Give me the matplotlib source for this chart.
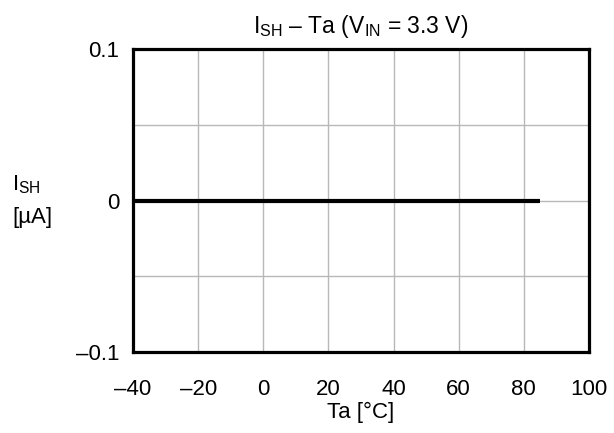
import matplotlib
matplotlib.use("Agg")
import matplotlib.pyplot as plt
from matplotlib.ticker import FixedLocator, FixedFormatter

plt.rcParams["font.family"] = ["Liberation Sans", "DejaVu Sans"]
plt.rcParams["mathtext.fontset"] = "custom"
plt.rcParams["mathtext.rm"] = "Liberation Sans"
plt.rcParams["mathtext.it"] = "Liberation Sans:italic"

# data
ta = [-40, 85]
i_sh = [0.0, 0.0]

x_ticks = [-40, -20, 0, 20, 40, 60, 80, 100]
x_labels = ["\u201340", "\u201320", "0", "20", "40", "60", "80", "100"]
y_ticks = [-0.1, 0, 0.1]
y_labels = ["\u20130.1", "0", "0.1"]
y_grid = [-0.05, 0.05]

FS = 16

fig = plt.figure(figsize=(6.14, 4.33), dpi=100)
ax = fig.add_axes([0.2166, 0.1878, 0.7427, 0.6979])

ax.plot(ta, i_sh, color="black", linewidth=3.0, solid_capstyle="butt", zorder=3)

ax.set_xlim(-40, 100)
ax.set_ylim(-0.1, 0.1)
ax.xaxis.set_major_locator(FixedLocator(x_ticks))
ax.xaxis.set_major_formatter(FixedFormatter(x_labels))
ax.yaxis.set_major_locator(FixedLocator(y_ticks))
ax.yaxis.set_major_formatter(FixedFormatter(y_labels))
ax.yaxis.set_minor_locator(FixedLocator(y_grid))
ax.tick_params(axis="both", which="both", length=0, labelsize=FS)
ax.tick_params(axis="x", pad=20)
ax.tick_params(axis="y", pad=10)

ax.grid(True, which="both", color="#b8b8b8", linewidth=1.0)
for s in ax.spines.values():
    s.set_linewidth(2.3)
    s.set_zorder(4)

ax.set_title("I$_{\\mathrm{SH}}$ \u2013 Ta (V$_{\\mathrm{IN}}$ = 3.3 V)",
             fontsize=16.5, pad=12)
ax.set_xlabel("Ta [\u00b0C]", fontsize=FS, labelpad=1)

fig.text(12 / 614, 1 - 185 / 433, "I$_{\\mathrm{SH}}$", fontsize=FS, ha="left", va="center")
fig.text(12 / 614, 1 - 218 / 433, "[\u00b5A]", fontsize=FS, ha="left", va="center")

fig.savefig("out.png", dpi=100)
